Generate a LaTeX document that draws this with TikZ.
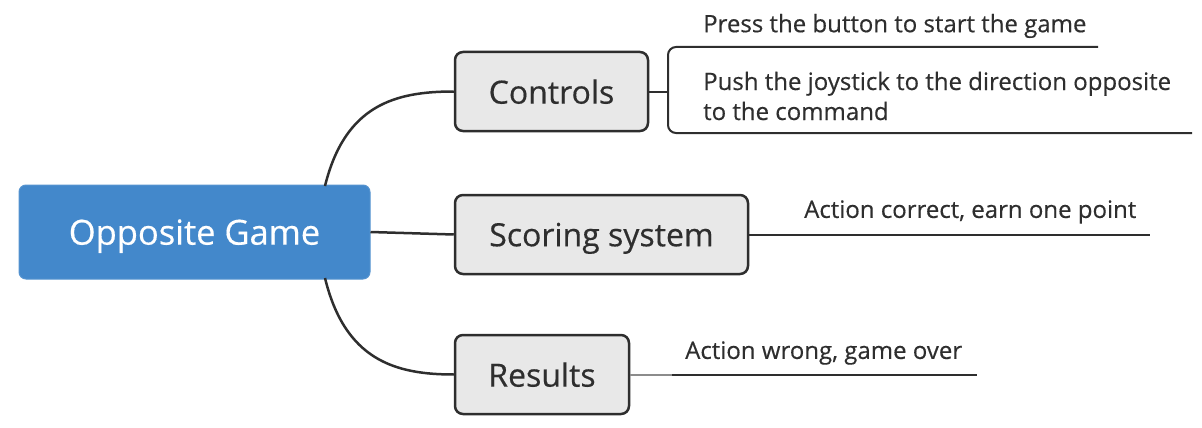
\documentclass[tikz,border=0pt]{standalone}
\usepackage{fontspec}
\setmainfont{Open Sans}[FakeBold=0.4]
\definecolor{rootblue}{HTML}{4388CB}
\definecolor{boxfill}{HTML}{E8E8E8}
\definecolor{stroke}{HTML}{2E2E2E}
\tikzset{
  rootbox/.style={draw=rootblue!90!white, fill=rootblue, rounded corners=7pt, line width=1pt,
    minimum width=351pt, minimum height=94pt, text=white, text depth=0pt, font=\fontsize{34.5}{40}\selectfont},
  topicbox/.style={draw=stroke, fill=boxfill, rounded corners=8pt, line width=2.5pt,
    minimum height=79pt, text=stroke, text depth=0pt, font=\fontsize{32}{36}\selectfont},
  leaftext/.style={text=stroke, font=\fontsize{24}{30}\selectfont, align=left, inner sep=0pt},
  conn/.style={draw=stroke, line width=2.5pt},
  leafline/.style={draw=stroke, line width=2pt},
}
\begin{document}
\begin{tikzpicture}[x=1pt,y=-1pt]
\useasboundingbox (0,0) rectangle (1202,428);
\node[rootbox] (root) at (194.5,232) {Opposite Game};
\node[topicbox, minimum width=193pt] (ctrl) at (551.5,91.5) {Controls};
\node[topicbox, minimum width=293pt] (score) at (601.5,234.5) {Scoring system};
\node[topicbox, minimum width=174pt] (res) at (542,374.5) {Results};

\coordinate (rt) at (325,186);
\coordinate (rb) at (325,278);
\draw[conn] (rt) .. controls (345,105) and (395,91.5) .. (ctrl.west);
\draw[conn] (root.east) -- (score.west);
\draw[conn] (rb) .. controls (345,360) and (395,374.5) .. (res.west);

% Controls leaves
\node[leaftext, anchor=west] (l1) at (703,26) {Press the button to start the game};
\node[leaftext, anchor=west] (l2) at (703,96) {Push the joystick to the direction opposite\\to the command};
\coordinate (bj) at (668,91.5);
\coordinate (l1e) at (1098,47);
\coordinate (l2e) at (1192,133);
\draw[leafline] (ctrl.east) -- (bj);
\draw[leafline, rounded corners=8pt] (l1e) -- (668,47) -- (668,133) -- (l2e);

% Scoring leaf
\node[leaftext, anchor=west] (l3) at (804,212) {Action correct, earn one point};
\coordinate (l3e) at (1150,234.5);
\draw[leafline] (score.east) -- (l3e);

% Results leaf
\node[leaftext, anchor=west] (l4) at (685,353) {Action wrong, game over};
\coordinate (l4s) at (672,374.5);
\coordinate (l4e) at (977,374.5);
\draw[draw=stroke!55, line width=2pt] (res.east) -- (l4s);
\draw[leafline] (l4s) -- (l4e);
\end{tikzpicture}
\end{document}
